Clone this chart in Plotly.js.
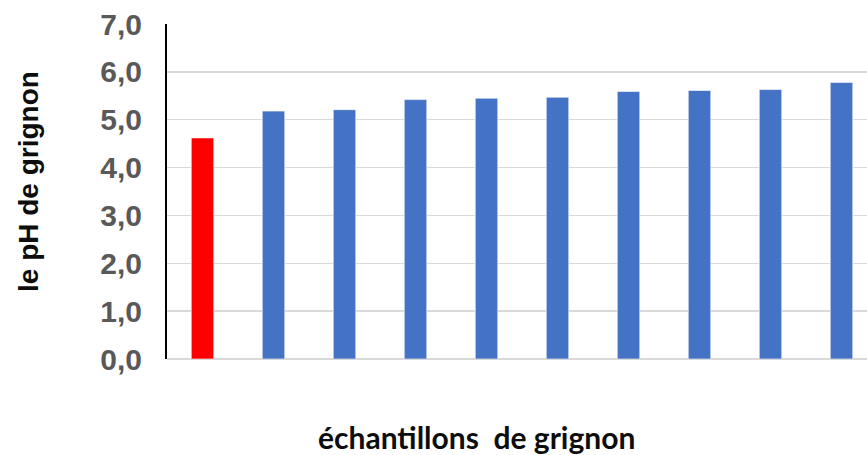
<!DOCTYPE html>
<html>
<head>
<meta charset="utf-8">
<script src="https://cdn.plot.ly/plotly-3.0.1.min.js"></script>
<style>
html, body { margin: 0; padding: 0; overflow: hidden; background: #fff; }
#chart { width: 880px; height: 455px; }
</style>
</head>
<body>
<div id="chart"></div>
<script>
// Data
const samples = ['E1', 'E2', 'E3', 'E4', 'E5', 'E6', 'E7', 'E8', 'E9', 'E10'];
const phValues = [4.62, 5.18, 5.21, 5.42, 5.45, 5.47, 5.59, 5.61, 5.63, 5.78];
const barColors = ['#FF0000', '#4472C4', '#4472C4', '#4472C4', '#4472C4', '#4472C4', '#4472C4', '#4472C4', '#4472C4', '#4472C4'];
const yTickValues = [0, 1, 2, 3, 4, 5, 6, 7];
const yAxisTitle = 'le pH de grignon';
const xAxisTitle = 'échantillons\u00a0 de grignon';

const trace = {
  type: 'bar',
  x: samples,
  y: phValues,
  marker: { color: barColors, line: { color: 'rgba(255,255,255,0.6)', width: 1 } },
  hoverinfo: 'none'
};

const layout = {
  width: 880,
  height: 455,
  margin: { l: 167, r: 3, t: 24, b: 96 },
  paper_bgcolor: '#ffffff',
  plot_bgcolor: '#ffffff',
  separators: ', ',
  showlegend: false,
  bargap: 0.683,
  xaxis: {
    type: 'category',
    showticklabels: false,
    showgrid: false,
    zeroline: false,
    showline: false,
    ticks: ''
  },
  yaxis: {
    range: [0, 7],
    tickvals: yTickValues,
    tickformat: '.1f',
    tickfont: { family: 'Liberation Sans, Arial, sans-serif', size: 30, color: '#595959', weight: 'bold' },
    ticklabelstandoff: 17,
    showgrid: true,
    gridcolor: '#d9d9d9',
    gridwidth: 1.5,
    zeroline: true,
    zerolinecolor: '#d9d9d9',
    zerolinewidth: 1.5,
    showline: true,
    linecolor: '#000000',
    linewidth: 2,
    ticks: ''
  },
  annotations: [
    {
      text: yAxisTitle,
      xref: 'paper', yref: 'paper',
      x: (28 - 167) / 710, y: (359 - 182) / 335,
      xanchor: 'center', yanchor: 'middle',
      textangle: -90,
      showarrow: false,
      font: { family: 'Liberation Sans, Arial, sans-serif', size: 28, color: '#0d0d0d', weight: 'bold' }
    },
    {
      text: xAxisTitle,
      xref: 'paper', yref: 'paper',
      x: (476 - 167) / 710, y: (359 - 437) / 335,
      xanchor: 'center', yanchor: 'middle',
      showarrow: false,
      font: { family: 'Lato, sans-serif', size: 30, color: '#0d0d0d', weight: 'bold' }
    }
  ]
};

Plotly.newPlot('chart', [trace], layout, { staticPlot: true, displayModeBar: false });
</script>
</body>
</html>
